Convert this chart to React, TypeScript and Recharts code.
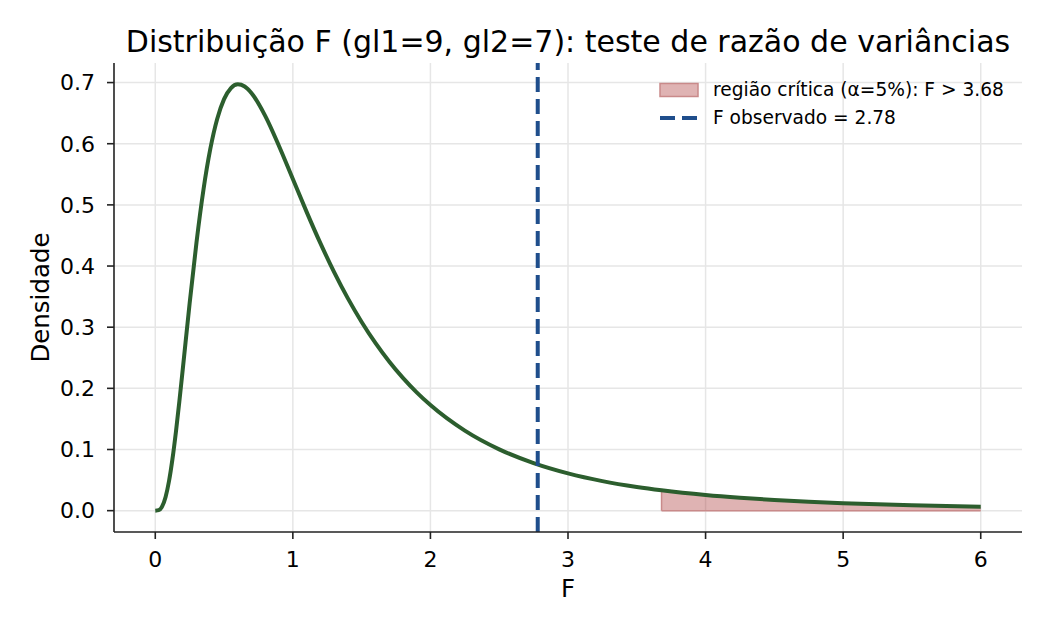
import React from "react";
import {
  ComposedChart,
  Line,
  Area,
  XAxis,
  YAxis,
  CartesianGrid,
  ReferenceLine,
  Legend,
} from "recharts";

// F values and density (gl1=9, gl2=7)
const fValues = [
  0, 0.025, 0.05, 0.075, 0.1, 0.125, 0.15, 0.175, 0.2, 0.25, 0.3, 0.35, 0.4, 0.45, 0.5, 0.55,
  0.6, 0.65, 0.7, 0.8, 0.9, 1.0, 1.1, 1.2, 1.3, 1.4, 1.5, 1.6, 1.7, 1.8, 1.9, 2.0, 2.25, 2.5,
  2.75, 3.0, 3.25, 3.5, 3.68, 4.0, 4.25, 4.5, 4.75, 5.0, 5.25, 5.5, 5.75, 6.0,
];
const density = [
  0, 0.0008, 0.0069, 0.0224, 0.0485, 0.0847, 0.1288, 0.1786, 0.2317, 0.3395, 0.4394, 0.5244,
  0.5914, 0.6404, 0.6729, 0.691, 0.6971, 0.6936, 0.6826, 0.6451, 0.5959, 0.5422, 0.4886, 0.4374,
  0.3901, 0.3471, 0.3086, 0.2743, 0.2439, 0.2171, 0.1935, 0.1727, 0.1309, 0.1003, 0.0778, 0.061,
  0.0483, 0.0387, 0.0332, 0.0255, 0.021, 0.0174, 0.0145, 0.0122, 0.0103, 0.0088, 0.0075, 0.0064,
];
const xTicks = [0, 1, 2, 3, 4, 5, 6];
const yTicks = [0, 0.1, 0.2, 0.3, 0.4, 0.5, 0.6, 0.7];

const fCritical = 3.68;
const fObserved = 2.78;

const data = fValues.map((x, i) => ({
  x,
  dens: density[i],
  crit: x >= fCritical ? density[i] : null,
}));
const critStartY = density[fValues.indexOf(fCritical)];

const FONT = "DejaVu Sans, sans-serif";
const CURVE = "#2c5e2e";
const OBS = "#1f4e8c";
const CRIT_FILL = "#a42626";
const CRIT_EDGE = "#c98a8a";
const AXIS = "#222";

function YLabel(props: any) {
  const vb = props.viewBox;
  const cx = vb.x + 40;
  const cy = vb.y + vb.height / 2;
  return (
    <text
      x={cx}
      y={cy}
      transform={`rotate(-90, ${cx}, ${cy})`}
      textAnchor="middle"
      dominantBaseline="central"
      fontSize={24.5}
      fontFamily={FONT}
      fill="#000"
    >
      Densidade
    </text>
  );
}

function XLabel(props: any) {
  const vb = props.viewBox;
  return (
    <text
      x={vb.x + vb.width / 2}
      y={vb.y + 65}
      textAnchor="middle"
      fontSize={24.5}
      fontFamily={FONT}
      fill="#000"
    >
      F
    </text>
  );
}

function LegendBox() {
  const row: React.CSSProperties = { display: "flex", alignItems: "center", height: 28 };
  return (
    <div style={{ fontFamily: FONT, fontSize: 18.6, color: "#000", lineHeight: 1 }}>
      <div style={row}>
        <svg width={40} height={16} style={{ marginRight: 14 }}>
          <rect x={1} y={1.5} width={38} height={13} fill={CRIT_FILL} fillOpacity={0.35} stroke={CRIT_EDGE} strokeWidth={1.5} />
        </svg>
        <span>região crítica (α=5%): F &gt; {fCritical.toFixed(2)}</span>
      </div>
      <div style={row}>
        <svg width={40} height={16} style={{ marginRight: 14 }}>
          <line x1={1} y1={8} x2={39} y2={8} stroke={OBS} strokeWidth={4} strokeDasharray="15 7" />
        </svg>
        <span>F observado = {fObserved.toFixed(2)}</span>
      </div>
    </div>
  );
}

export default function App() {
  return (
    <div style={{ position: "absolute", left: 0, top: 0, width: 1050, height: 630, background: "#fff" }}>
      <div
        style={{
          position: "absolute",
          left: 0,
          top: 26.5,
          width: 1136,
          textAlign: "center",
          fontFamily: FONT,
          fontSize: 30,
          lineHeight: "30px",
          color: "#000",
          whiteSpace: "nowrap",
        }}
      >
        Distribuição F (gl1=9, gl2=7): teste de razão de variâncias
      </div>
      <ComposedChart
        width={1050}
        height={630}
        data={data}
        margin={{ top: 63, right: 28, bottom: 0, left: 0 }}
        style={{ fontFamily: FONT }}
      >
        <CartesianGrid stroke="#e6e6e6" strokeWidth={1.5} horizontalValues={yTicks} verticalValues={xTicks} />
        <XAxis
          type="number"
          dataKey="x"
          domain={[-0.3, 6.3]}
          ticks={xTicks}
          height={98}
          stroke={AXIS}
          strokeWidth={1.6}
          tickSize={7}
          tickMargin={12}
          tick={{ fontSize: 22, fill: "#000", fontFamily: FONT }}
          tickLine={{ stroke: AXIS, strokeWidth: 1.6 }}
          label={XLabel}
        />
        <YAxis
          type="number"
          domain={[-0.0349, 0.732]}
          ticks={yTicks}
          width={114}
          stroke={AXIS}
          strokeWidth={1.6}
          tickSize={7}
          tickMargin={12}
          tickFormatter={(v: number) => v.toFixed(1)}
          tick={{ fontSize: 22, fill: "#000", fontFamily: FONT }}
          tickLine={{ stroke: AXIS, strokeWidth: 1.6 }}
          label={YLabel}
        />
        <Area
          dataKey="crit"
          type="monotone"
          baseValue={0}
          fill={CRIT_FILL}
          fillOpacity={0.35}
          stroke="none"
          isAnimationActive={false}
        />
        <ReferenceLine
          segment={[
            { x: fCritical, y: 0 },
            { x: fCritical, y: critStartY },
          ]}
          stroke={CRIT_EDGE}
          strokeWidth={1.5}
        />
        <ReferenceLine
          segment={[
            { x: fCritical, y: 0 },
            { x: fValues[fValues.length - 1], y: 0 },
          ]}
          stroke={CRIT_EDGE}
          strokeWidth={1.5}
        />
        <Line
          dataKey="dens"
          type="monotone"
          stroke={CURVE}
          strokeWidth={4}
          dot={false}
          activeDot={false}
          isAnimationActive={false}
        />
        <ReferenceLine x={fObserved} stroke={OBS} strokeWidth={4} strokeDasharray="15 7" />
        <Legend
          layout="horizontal"
          verticalAlign="middle"
          align="center"
          content={LegendBox}
          wrapperStyle={{ position: "absolute", left: 659, top: 76, width: "auto", height: "auto" }}
        />
      </ComposedChart>
    </div>
  );
}
